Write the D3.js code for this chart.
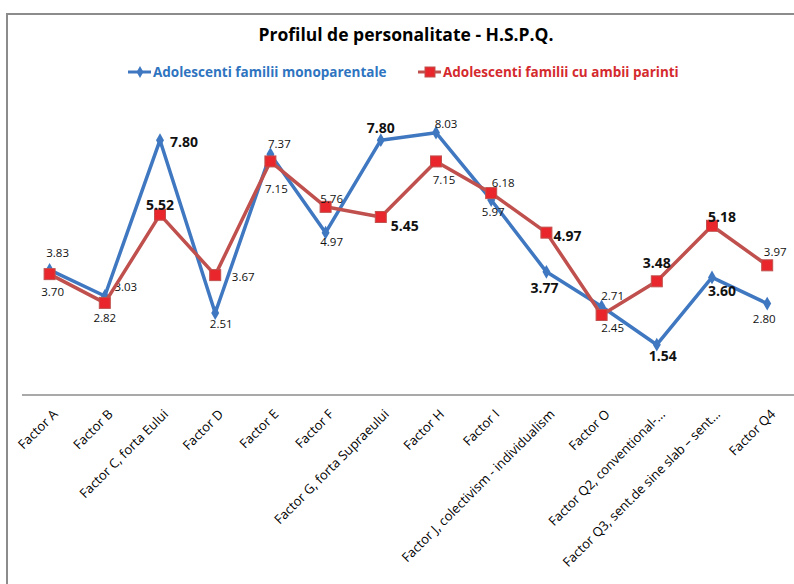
<!DOCTYPE html>
<html>
<head>
<meta charset="utf-8">
<script src="https://cdnjs.cloudflare.com/ajax/libs/d3/7.8.5/d3.min.js"></script>
<style>
  body { margin: 0; background: #fff; }
  text { font-family: "Open Sans", sans-serif; }
</style>
</head>
<body>
<svg id="chart"></svg>
<script>
// chart data
const categories = [
    'Factor A', 'Factor B', 'Factor C, forta Eului', 'Factor D', 'Factor E', 'Factor F',
    'Factor G, forta Supraeului', 'Factor H', 'Factor I', 'Factor J, colectivism - individualism',
    'Factor O', 'Factor Q2, conventional-...', 'Factor Q3, sent.de sine slab \u2013 sent...', 'Factor Q4'
];
const monoValues = [3.83, 3.03, 7.80, 2.51, 7.37, 4.97, 7.80, 8.03, 5.97, 3.77, 2.71, 1.54, 3.60, 2.80];
const ambiiValues = [3.70, 2.82, 5.52, 3.67, 7.15, 5.76, 5.45, 7.15, 6.18, 4.97, 2.45, 3.48, 5.18, 3.97];
const seriesNames = ['Adolescenti familii monoparentale', 'Adolescenti familii cu ambii parinti'];

// label placement (dx, dy from the point) and emphasis, per point
const monoLabelPos = [[8, -17], [21, -9], [24, 2], [6, 11], [9, -10], [6, 9], [0, -12], [10, -9], [2, 12], [-2, 16], [11, -10], [6, 11], [10, 14], [-3, 15]];
const monoBold = [0, 0, 1, 0, 0, 0, 1, 0, 0, 1, 0, 1, 1, 0];
const ambiiLabelPos = [[3, 18], [0, 15], [0, -10], [28, 2], [6, 28], [6, -8], [24, 9], [8, 19], [12, -10], [21, 3], [11, 13], [0, -18], [10, -9], [8, -13]];
const ambiiBold = [0, 0, 1, 0, 0, 0, 1, 0, 0, 1, 0, 1, 1, 0];

const W = 794, H = 584;
const blue = '#3f78c1', red = '#c0504d', redFill = '#e8262b';

const svg = d3.select('#chart').attr('width', W).attr('height', H);

// outer frame
svg.append('rect')
    .attr('x', 7).attr('y', 14)
    .attr('width', W + 20).attr('height', H + 20)
    .attr('fill', 'none').attr('stroke', '#8c8c8c').attr('stroke-width', 2);

const x = d3.scaleBand().domain(categories).range([22, 22 + 14 * 55.2]);
const y = d3.scaleLinear().domain([0, 9]).range([395, 101]);
const cx = d => x(d) + x.bandwidth() / 2;

// title
svg.append('text')
    .attr('x', 406).attr('y', 41)
    .attr('text-anchor', 'middle')
    .style('font-size', '17.5px').style('font-weight', 'bold')
    .text('Profilul de personalitate - H.S.P.Q.');

// legend
const legend = [
    { name: seriesNames[0], color: blue, text: '#2e74c0', x: 128, shape: 'diamond' },
    { name: seriesNames[1], color: red, text: '#d42a2e', x: 418, shape: 'square' }
];
legend.forEach(l => {
    const g = svg.append('g').attr('transform', `translate(${l.x}, 72)`);
    g.append('line').attr('x1', 0).attr('x2', 23).attr('stroke', l.color).attr('stroke-width', 3);
    if (l.shape === 'diamond') {
        g.append('path').attr('d', d3.symbol(d3.symbolDiamond, 40)()).attr('transform', 'translate(12,0)').attr('fill', l.color);
    } else {
        g.append('rect').attr('x', 7).attr('y', -5).attr('width', 10).attr('height', 10).attr('fill', redFill).attr('stroke', red);
    }
    g.append('text').attr('x', 25).attr('y', 5)
        .style('font-size', '13.5px').style('font-weight', 'bold')
        .attr('fill', l.text)
        .text(l.name);
});

// x axis
svg.append('line')
    .attr('x1', 22).attr('x2', W).attr('y1', y(0)).attr('y2', y(0))
    .attr('stroke', '#8c8c8c').attr('stroke-width', 1.5);

svg.selectAll('.xlabel')
    .data(categories)
    .join('text')
    .attr('class', 'xlabel')
    .attr('text-anchor', 'end')
    .attr('transform', d => `translate(${cx(d) + 9}, ${y(0) + 20}) rotate(-45)`)
    .style('font-size', '13px')
    .text(d => d);

// series
const line = d3.line().x((d, i) => cx(categories[i])).y(d => y(d));

function drawSeries(values, color, shape, labelPos, bold) {
    svg.append('path')
        .datum(values)
        .attr('d', line)
        .attr('fill', 'none')
        .attr('stroke', color)
        .attr('stroke-width', 3.5)
        .attr('stroke-linejoin', 'round');

    if (shape === 'diamond') {
        svg.selectAll(null)
            .data(values)
            .join('path')
            .attr('d', d3.symbol(d3.symbolDiamond, 55)())
            .attr('transform', (d, i) => `translate(${cx(categories[i])}, ${y(d)})`)
            .attr('fill', color);
    } else {
        svg.selectAll(null)
            .data(values)
            .join('rect')
            .attr('x', (d, i) => cx(categories[i]) - 5.5)
            .attr('y', d => y(d) - 5.5)
            .attr('width', 11).attr('height', 11)
            .attr('fill', redFill)
            .attr('stroke', color).attr('stroke-width', 1);
    }

    svg.selectAll(null)
        .data(values)
        .join('text')
        .attr('x', (d, i) => cx(categories[i]) + labelPos[i][0])
        .attr('y', (d, i) => y(d) + labelPos[i][1])
        .attr('dy', '0.35em')
        .attr('text-anchor', 'middle')
        .style('font-size', (d, i) => bold[i] ? '14px' : '11.5px')
        .style('font-weight', (d, i) => bold[i] ? 'bold' : 'normal')
        .attr('fill', '#111')
        .text(d => d.toFixed(2));
}

drawSeries(monoValues, blue, 'diamond', monoLabelPos, monoBold);
drawSeries(ambiiValues, red, 'square', ambiiLabelPos, ambiiBold);
</script>
</body>
</html>
